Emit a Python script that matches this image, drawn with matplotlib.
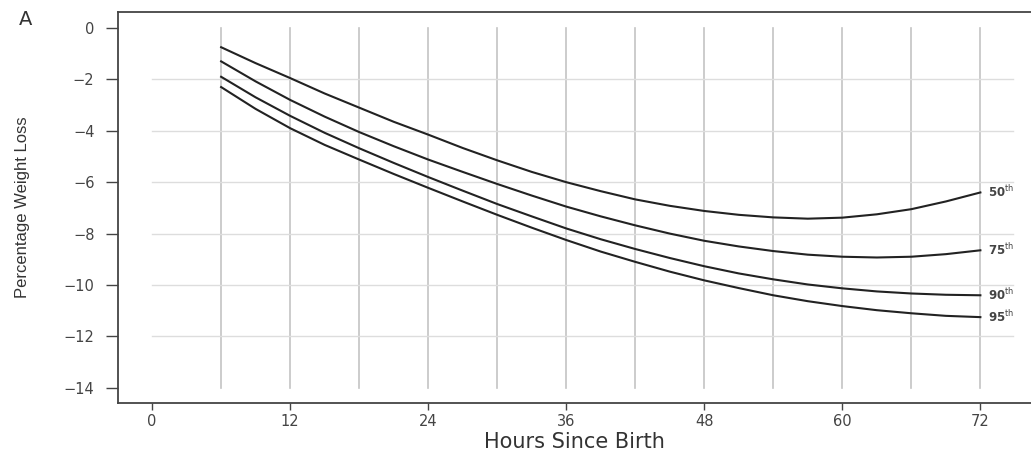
import matplotlib.pyplot as plt

plt.rcParams['font.family'] = ['DejaVu Sans']
plt.rcParams['mathtext.fontset'] = 'dejavusans'

# Hours since birth and weight loss percentiles
hours = [6, 9, 12, 15, 18, 21, 24, 27, 30, 33, 36, 39, 42, 45, 48, 51, 54, 57, 60, 63, 66, 69, 72]
p50 = [-0.75, -1.37, -1.95, -2.55, -3.1, -3.65, -4.15, -4.67, -5.15, -5.6, -6.0, -6.35,
       -6.67, -6.92, -7.12, -7.27, -7.37, -7.42, -7.38, -7.25, -7.05, -6.75, -6.4]
p75 = [-1.3, -2.08, -2.8, -3.45, -4.05, -4.6, -5.12, -5.6, -6.07, -6.52, -6.95, -7.33,
       -7.68, -8.0, -8.28, -8.5, -8.68, -8.82, -8.9, -8.93, -8.9, -8.8, -8.65]
p90 = [-1.9, -2.7, -3.42, -4.08, -4.68, -5.25, -5.8, -6.33, -6.85, -7.33, -7.8, -8.22,
       -8.6, -8.95, -9.27, -9.55, -9.78, -9.98, -10.13, -10.25, -10.33, -10.38, -10.4]
p95 = [-2.3, -3.15, -3.9, -4.55, -5.12, -5.68, -6.22, -6.75, -7.27, -7.77, -8.25, -8.7,
       -9.1, -9.48, -9.82, -10.12, -10.4, -10.63, -10.82, -10.98, -11.1, -11.2, -11.25]
curve_labels = ['50', '75', '90', '95']

xticks = [0, 12, 24, 36, 48, 60, 72]
yticks = [0, -2, -4, -6, -8, -10, -12, -14]
vgrid = [6, 12, 18, 24, 30, 36, 42, 48, 54, 60, 66, 72]
hgrid = [-2, -4, -6, -8, -10, -12]

fig = plt.figure(figsize=(10.31, 4.53), dpi=100)
ax = fig.add_axes([0.1145, 0.1104, 0.8855, 0.8631])
ax.set_xlim(-2.96, 76.4)
ax.set_ylim(-14.59, 0.62)

# grid drawn by hand, it doesn't span the full axes
for g in vgrid:
    ax.plot([g, g], [0, -14], color='#c4c4c4', lw=1.2, zorder=1)
for g in hgrid:
    ax.plot([0, 74.8], [g, g], color='#dddddd', lw=1.0, zorder=1)

for vals, lab in zip([p50, p75, p90, p95], curve_labels):
    ax.plot(hours, vals, color='#222222', lw=1.5, zorder=3)
    ax.text(72.7, vals[-1], lab + r'$^{\mathrm{th}}$', fontsize=8.5,
            fontweight='bold', color='#444444', va='center', ha='left')

ax.set_xticks(xticks)
ax.set_xticklabels([str(t) for t in xticks])
ax.set_yticks(yticks)
ax.set_yticklabels([str(t).replace('-', '\u2212') for t in yticks])
ax.tick_params(direction='out', width=1, color='#444444',
               labelsize=10.5, labelcolor='#444444')
ax.tick_params(axis='x', length=5, pad=3)
ax.tick_params(axis='y', length=9, pad=8)

for side in ['left', 'top', 'bottom']:
    ax.spines[side].set_color('#444444')
    ax.spines[side].set_linewidth(1.3)
ax.spines['right'].set_visible(False)

ax.set_xlabel('Hours Since Birth', fontsize=15, color='#333333', labelpad=2)
ax.set_ylabel('Percentage Weight Loss', fontsize=12, color='#333333', labelpad=24,
              family=['Liberation Sans'])

fig.text(0.018, 0.945, 'A', fontsize=14, color='#333333')

fig.savefig('out.png', dpi=100, facecolor='white')
